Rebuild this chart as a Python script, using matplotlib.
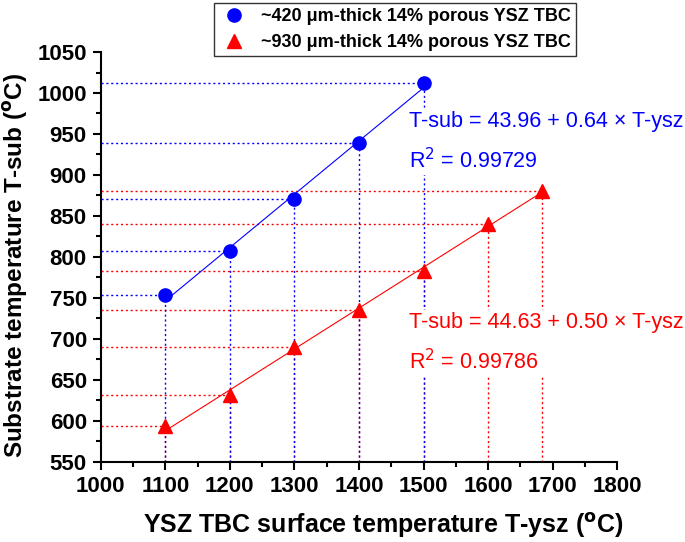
import matplotlib.pyplot as plt
import numpy as np

plt.rcParams['font.family'] = ['Liberation Sans', 'DejaVu Sans']

# data
blue_x = [1100, 1200, 1300, 1400, 1500]
blue_y = [753, 807, 871, 939, 1012]
red_x = [1100, 1200, 1300, 1400, 1500, 1600, 1683]
red_y = [594, 631, 690, 735, 783, 840, 881]

blue_label = '~420 μm-thick 14% porous YSZ TBC'
red_label = '~930 μm-thick 14% porous YSZ TBC'
blue_eq = 'T-sub = 43.96 + 0.64 × T-ysz\n\nR$^2$ = 0.99729'
red_eq = 'T-sub = 44.63 + 0.50 × T-ysz\n\nR$^2$ = 0.99786'

xmin, xmax = 1000, 1800
ymin, ymax = 550, 1050

fig = plt.figure(figsize=(6.85, 5.42), dpi=100)
ax = fig.add_axes([0.147, 0.148, 0.754, 0.756])

dot = (0, (1.5, 2.0))
for x, y in zip(red_x, red_y):
    ax.plot([xmin, x], [y, y], color='red', ls=dot, lw=1.0, zorder=1)
    ax.plot([x, x], [ymin, y], color='red', ls=dot, lw=1.0, zorder=1)
for x, y in zip(blue_x, blue_y):
    ax.plot([xmin, x], [y, y], color='blue', ls=dot, lw=1.0, zorder=1)
    ax.plot([x, x], [ymin, y], color='blue', ls=dot, lw=1.0, zorder=1)

# linear fits
for xs, ys, c in [(blue_x, blue_y, 'blue'), (red_x, red_y, 'red')]:
    k, b = np.polyfit(xs, ys, 1)
    xx = np.array([xs[0], xs[-1]])
    ax.plot(xx, k * xx + b, color=c, lw=0.8, zorder=2)

ax.plot(blue_x, blue_y, 'o', color='blue', ms=9.5, ls='none', zorder=4, label=blue_label)
ax.plot(red_x, red_y, '^', color='red', ms=10, ls='none', zorder=4, label=red_label)

bbox = dict(facecolor='white', edgecolor='none', pad=1.5)
ax.text(1478, 940, blue_eq, color='blue', fontsize=15.5, va='center', ha='left',
        linespacing=0.85, bbox=bbox, zorder=3)
ax.text(1478, 695, red_eq, color='red', fontsize=15.5, va='center', ha='left',
        linespacing=0.85, bbox=bbox, zorder=3)

ax.set_xlim(xmin, xmax)
ax.set_ylim(ymin, ymax)
ax.set_xticks(np.arange(1000, 1801, 100))
ax.set_xticks(np.arange(1050, 1800, 100), minor=True)
ax.set_yticks(np.arange(550, 1051, 50))
ax.set_yticks(np.arange(575, 1050, 50), minor=True)
ax.spines['top'].set_visible(False)
ax.spines['right'].set_visible(False)
for s in ['left', 'bottom']:
    ax.spines[s].set_linewidth(1.5)
ax.tick_params(which='major', direction='out', length=6, width=1.5, labelsize=16, pad=4)
ax.tick_params(which='minor', direction='out', length=3.5, width=1.5)
for lab in ax.get_xticklabels() + ax.get_yticklabels():
    lab.set_fontweight('bold')

ax.set_xlabel('YSZ TBC surface temperature T-ysz ($^\\mathbf{o}$C)', fontsize=18,
              fontweight='bold')
ax.xaxis.set_label_coords(0.547, -0.12)
ax.set_ylabel('Substrate temperature T-sub ($^\\mathbf{o}$C)', fontsize=17.5,
              fontweight='bold')
ax.yaxis.set_label_coords(-0.137, 0.48)

leg = fig.legend(loc='upper center', bbox_to_anchor=(0.577, 1.012), frameon=True,
                 fancybox=False, edgecolor='black', handletextpad=0.7,
                 borderpad=0.3, labelspacing=0.5, handlelength=1.6,
                 prop={'weight': 'bold', 'size': 13})
leg.get_frame().set_linewidth(1.0)

fig.savefig('out.png', dpi=100)
